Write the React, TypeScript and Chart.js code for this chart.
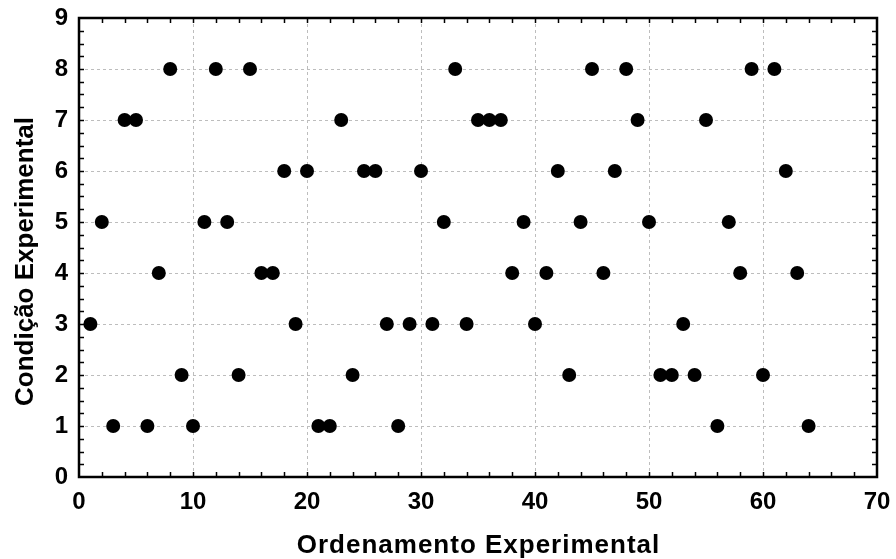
import React, { useEffect, useRef } from "react";
import { Chart, registerables } from "chart.js";

Chart.register(...registerables);

const runOrder = [
  1, 2, 3, 4, 5, 6, 7, 8, 9, 10, 11, 12, 13, 14, 15, 16,
  17, 18, 19, 20, 21, 22, 23, 24, 25, 26, 27, 28, 29, 30, 31, 32,
  33, 34, 35, 36, 37, 38, 39, 40, 41, 42, 43, 44, 45, 46, 47, 48,
  49, 50, 51, 52, 53, 54, 55, 56, 57, 58, 59, 60, 61, 62, 63, 64,
];
const condition = [
  3, 5, 1, 7, 7, 1, 4, 8, 2, 1, 5, 8, 5, 2, 8, 4,
  4, 6, 3, 6, 1, 1, 7, 2, 6, 6, 3, 1, 3, 6, 3, 5,
  8, 3, 7, 7, 7, 4, 5, 3, 4, 6, 2, 5, 8, 4, 6, 8,
  7, 5, 2, 2, 3, 2, 7, 1, 5, 4, 8, 2, 8, 6, 4, 1,
];
const xRange = [0, 70];
const yRange = [0, 9];
const xMajorStep = 10;
const yMajorStep = 1;
const xMinorStep = 2;
const yMinorStep = 0.25;
const xTitle = "Ordenamento Experimental";
const yTitle = "Condição Experimental";

const FONT = "'Liberation Sans', Arial, sans-serif";

const framePlugin = {
  id: "frameAndMinorTicks",
  afterDatasetsDraw(chart: any) {
    const { ctx, chartArea } = chart;
    const xs = chart.scales.x;
    const ys = chart.scales.y;
    const { left, right, top, bottom } = chartArea;
    ctx.save();
    ctx.strokeStyle = "#000";
    ctx.lineWidth = 1.5;
    ctx.beginPath();
    for (let v = xRange[0] + xMinorStep; v < xRange[1]; v += xMinorStep) {
      const px = Math.round(xs.getPixelForValue(v)) + 0.5;
      ctx.moveTo(px, bottom);
      ctx.lineTo(px, bottom - 5);
      ctx.moveTo(px, top);
      ctx.lineTo(px, top + 5);
    }
    for (let v = yRange[0] + yMinorStep; v < yRange[1]; v += yMinorStep) {
      const py = Math.round(ys.getPixelForValue(v)) + 0.5;
      ctx.moveTo(left, py);
      ctx.lineTo(left + 5, py);
      ctx.moveTo(right, py);
      ctx.lineTo(right - 5, py);
    }
    ctx.stroke();
    ctx.lineWidth = 2.5;
    ctx.strokeRect(left, top, right - left, bottom - top);

    // axis titles
    ctx.fillStyle = "#000";
    ctx.font = `bold 26px ${FONT}`;
    ctx.textBaseline = "alphabetic";
    ctx.textAlign = "center";
    try {
      (ctx as any).letterSpacing = "1px";
    } catch (e) {}
    ctx.fillText(xTitle, (left + right) / 2 + 0.5, bottom + 76);
    try {
      (ctx as any).letterSpacing = "0px";
    } catch (e) {}
    ctx.save();
    ctx.translate(33, (top + bottom) / 2 + 14);
    ctx.rotate(-Math.PI / 2);
    ctx.fillText(yTitle, 0, 0);
    ctx.restore();
    ctx.restore();
  },
};

export default function App() {
  const ref = useRef<HTMLCanvasElement | null>(null);
  useEffect(() => {
    if (!ref.current) return;
    const gridColor = (c: any) => {
      const v = c.tick ? c.tick.value : null;
      return v === 0 || v === 70 || v === 9 ? "rgba(0,0,0,0)" : "#bdbdbd";
    };
    const zeroPad = (s: any) => {
      s.paddingTop = 0;
      s.paddingBottom = 0;
      s.paddingLeft = 0;
      s.paddingRight = 0;
    };
    const chart = new Chart(ref.current, {
      type: "scatter",
      data: {
        datasets: [
          {
            data: runOrder.map((x, i) => ({ x, y: condition[i] })),
            backgroundColor: "#000",
            borderColor: "#000",
            pointRadius: 7,
            pointHoverRadius: 7,
            borderWidth: 0,
          },
        ],
      },
      options: {
        animation: false,
        responsive: false,
        events: [],
        layout: { autoPadding: false, padding: { top: 18, right: 19, left: 0, bottom: 0 } },
        plugins: { legend: { display: false }, tooltip: { enabled: false } },
        scales: {
          x: {
            type: "linear",
            min: xRange[0],
            max: xRange[1],
            afterFit: (s: any) => {
              s.height = 82;
              zeroPad(s);
            },
            ticks: {
              stepSize: xMajorStep,
              color: "#000",
              padding: 11,
              font: { family: FONT, size: 24, weight: "bold" },
              maxRotation: 0,
            },
            grid: { color: gridColor, lineWidth: 1, drawTicks: false },
            border: { display: false, dash: [3, 3] },
          },
          y: {
            type: "linear",
            min: yRange[0],
            max: yRange[1],
            afterFit: (s: any) => {
              s.width = 79;
              zeroPad(s);
            },
            ticks: {
              stepSize: yMajorStep,
              color: "#000",
              padding: 11,
              font: { family: FONT, size: 24, weight: "bold" },
            },
            grid: { color: gridColor, lineWidth: 1, drawTicks: false },
            border: { display: false, dash: [3, 3] },
          },
        },
      },
      plugins: [framePlugin],
    } as any);
    return () => chart.destroy();
  }, []);
  return (
    <div style={{ position: "absolute", left: 0, top: 0, width: 896, height: 559 }}>
      <canvas ref={ref} width={896} height={559} style={{ display: "block" }} />
    </div>
  );
}
